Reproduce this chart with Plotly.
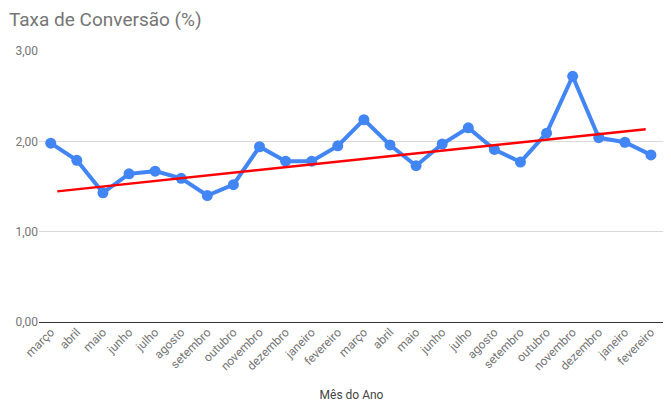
import plotly.graph_objects as go

# Month labels (two years, March through February)
months = [
    "março", "abril", "maio", "junho", "julho", "agosto", "setembro", "outubro",
    "novembro", "dezembro", "janeiro", "fevereiro",
    "março", "abril", "maio", "junho", "julho", "agosto", "setembro", "outubro",
    "novembro", "dezembro", "janeiro", "fevereiro",
]

# Conversion rate (%) per month
rates = [
    1.98, 1.79, 1.43, 1.64, 1.67, 1.59, 1.40, 1.52, 1.94, 1.78, 1.78, 1.95,
    2.24, 1.96, 1.73, 1.97, 2.15, 1.91, 1.77, 2.09, 2.72, 2.04, 1.99, 1.85,
]

# Trend line endpoints (position index, value)
trend_x = [0.25, 22.8]
trend_y = [1.446, 2.135]

y_ticks = [0, 1, 2, 3]
y_labels = ["0,00", "1,00", "2,00", "3,00"]

BLUE = "#4285F4"
RED = "#FF0000"
GRAY = "#757575"

# the page body has an 8px margin, so the figure is shrunk and offset to fit
W, H = 663, 401

idx = list(range(len(months)))

fig = go.Figure()
fig.add_trace(go.Scatter(
    x=idx, y=rates, mode="lines+markers", name="Taxa de Conversão",
    line=dict(color=BLUE, width=4),
    marker=dict(color=BLUE, size=11),
    showlegend=False,
))
fig.add_trace(go.Scatter(
    x=trend_x, y=trend_y, mode="lines", name="Tendência",
    line=dict(color=RED, width=2.5),
    showlegend=False,
))

fig.update_layout(
    width=W, height=H,
    margin=dict(l=31, r=7, t=43, b=87),
    paper_bgcolor="white", plot_bgcolor="white",
    font=dict(family="Roboto, Arial, sans-serif", size=12, color=GRAY),
    title=dict(
        text="Taxa de Conversão (%)", xref="container", yref="container",
        x=1 / W, xanchor="left", y=1 - 5 / H, yanchor="top",
        font=dict(size=19, color=GRAY), automargin=False,
    ),
    xaxis=dict(
        range=[-0.45, 23.5], tickvals=idx, ticktext=months, tickangle=-45,
        showgrid=False, zeroline=False, showline=False, ticks="",
        tickfont=dict(size=12, color=GRAY), automargin=False,
        title=dict(text="Mês do Ano", font=dict(size=12, color="#444444"), standoff=18),
    ),
    yaxis=dict(
        range=[0, 3], tickvals=y_ticks, ticktext=y_labels,
        showgrid=True, gridcolor="#d9d9d9", gridwidth=1,
        zeroline=True, zerolinecolor="#333333", zerolinewidth=1,
        showline=False, ticks="", tickfont=dict(size=12, color=GRAY),
        automargin=False,
    ),
)

fig.write_html("out.html")
